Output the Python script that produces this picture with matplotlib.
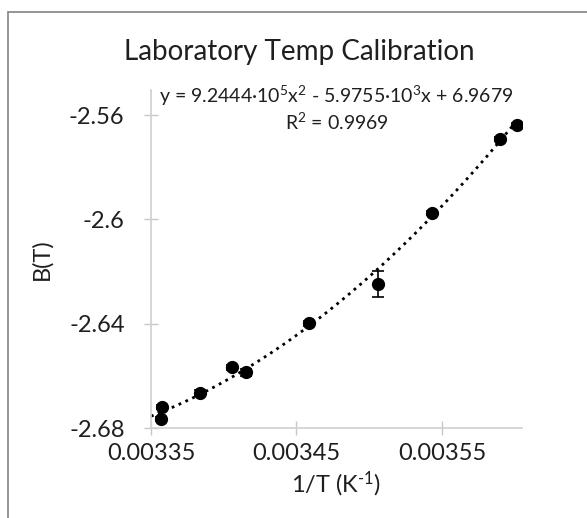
import numpy as np
import matplotlib
matplotlib.use("Agg")
import matplotlib.pyplot as plt
from matplotlib.patches import Rectangle

# ---- data ----
inv_T = [0.0033574, 0.003357, 0.003384, 0.0034057, 0.0034155,
         0.0034585, 0.0035061, 0.003543, 0.00359, 0.0036015]
B_T = [-2.6721, -2.6766, -2.6665, -2.6568, -2.6587,
       -2.6399, -2.6249, -2.5976, -2.5691, -2.5640]
B_err = [0.0008, 0.0008, 0.0012, 0.0008, 0.0012,
         0.0008, 0.0050, 0.0008, 0.0008, 0.0008]
trend_coeffs = [9.2444e5, -5.9755e3, 6.9679]
x_ticks = [0.00335, 0.00345, 0.00355]
x_tick_labels = ["0.00335", "0.00345", "0.00355"]
y_ticks = [-2.68, -2.64, -2.60, -2.56]
y_tick_labels = ["-2.68", "-2.64", "-2.6", "-2.56"]
title = "Laboratory Temp Calibration"
eq_text = r"y = 9.2444·10$^{5}$x$^{2}$ - 5.9755·10$^{3}$x + 6.9679"
r2_text = r"R$^{2}$ = 0.9969"
x_label = "1/T (K$^{\u20101}$)"
y_label = "B(T)"

FONT = ["Lato", "DejaVu Sans"]
plt.rcParams["font.family"] = FONT
plt.rcParams["mathtext.fontset"] = "custom"
plt.rcParams["mathtext.rm"] = "Lato"
plt.rcParams["mathtext.it"] = "Lato"
plt.rcParams["mathtext.default"] = "regular"

W, H = 587, 518
TXT = "#1F1F1F"
fig = plt.figure(figsize=(W / 100, H / 100), dpi=100)
ax = fig.add_axes([151 / W, 1 - 428 / H, (522 - 151) / W, (428 - 90) / H])

xmin, xmax = 0.00335, 0.003605
ymin, ymax = -2.68, -2.5504

# trendline
xs = np.linspace(xmin, max(inv_T), 200)
ax.plot(xs, np.polyval(trend_coeffs, xs), color="black", lw=2.0,
        linestyle=(0, (1, 1.7)), zorder=2)

# data with error bars
ax.errorbar(inv_T, B_T, yerr=B_err, fmt="o", color="black", ms=8.5,
            ecolor="black", elinewidth=1.2, capsize=4, capthick=1.2,
            zorder=3)

ax.set_xlim(xmin, xmax)
ax.set_ylim(ymin, ymax)
ax.set_xticks(x_ticks)
ax.set_xticklabels(x_tick_labels)
ax.set_yticks(y_ticks)
ax.set_yticklabels(y_tick_labels)

for s in ["top", "right"]:
    ax.spines[s].set_visible(False)
for s in ["left", "bottom"]:
    ax.spines[s].set_color("#D0D0D0")
    ax.spines[s].set_linewidth(1.2)

ax.tick_params(axis="both", direction="inout", length=10, width=1.0,
               color="#C8C8C8", labelsize=17, labelcolor=TXT)
ax.tick_params(axis="y", pad=14)
ax.tick_params(axis="x", pad=6)

ax.set_xlabel(x_label, fontsize=17, color=TXT, labelpad=4)
ax.set_ylabel(y_label, fontsize=17, color=TXT, labelpad=12)

fig.text(299 / W, 1 - 52 / H, title, ha="center", va="center",
         fontsize=20, color=TXT)
fig.text(336 / W, 1 - 96 / H, eq_text, ha="center", va="center",
         fontsize=14, color=TXT)
fig.text(337 / W, 1 - 122 / H, r2_text, ha="center", va="center",
         fontsize=14, color=TXT)

# chart border (extends beyond the crop on right and bottom)
fig.patches.append(Rectangle((8 / W, -0.2), 1.5, 1.2 - 12 / H,
                             transform=fig.transFigure, fill=False,
                             edgecolor="#8C8C8C", lw=1.3))

fig.savefig("out.png", dpi=100, facecolor="white")
